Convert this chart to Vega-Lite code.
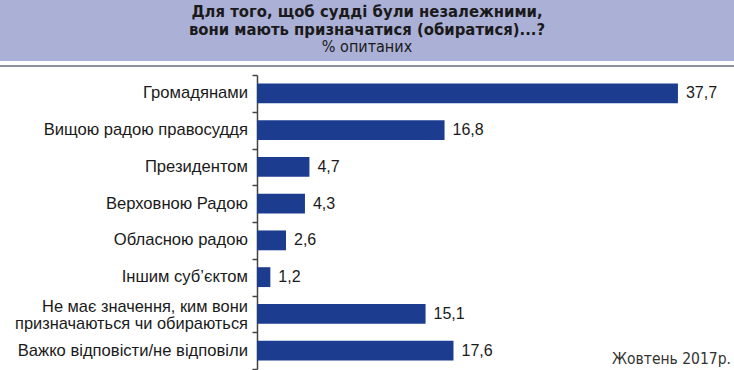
{
  "$schema": "https://vega.github.io/schema/vega-lite/v6.json",
  "padding": 0,
  "background": "white",
  "spacing": 7,
  "config": {
    "locale": {"number": {"decimal": ",", "thousands": " ", "grouping": [3], "currency": ["", ""]}},
    "view": {"stroke": null},
    "font": "Liberation Sans"
  },
  "vconcat": [
    {
      "width": 734,
      "height": 67,
      "view": {
        "stroke": null,
        "fill": {
          "gradient": "linear", "x1": 0, "y1": 0, "x2": 0, "y2": 1,
          "stops": [
            {"offset": 0, "color": "#abb0d7"},
            {"offset": 0.905, "color": "#abb0d7"},
            {"offset": 0.91, "color": "#ffffff"},
            {"offset": 0.965, "color": "#ffffff"},
            {"offset": 0.97, "color": "#8e919c"},
            {"offset": 1, "color": "#8e919c"}
          ]
        }
      },
      "data": {"values": [
        {"row": 1, "line": "Для того, щоб судді були незалежними,", "kind": "title"},
        {"row": 2, "line": "вони мають призначатися (обиратися)...?", "kind": "title"},
        {"row": 3, "line": "% опитаних", "kind": "sub"}
      ]},
      "layer": [
        {
          "transform": [{"filter": "datum.kind === 'title'"}],
          "mark": {"type": "text", "font": "DejaVu Sans Condensed", "fontWeight": "bold", "fontSize": 16.5, "color": "#1a1a1a", "baseline": "middle", "align": "center"},
          "encoding": {
            "y": {"field": "row", "type": "ordinal", "scale": {"domain": [1, 2, 3], "range": [12, 47], "padding": 0}, "axis": null},
            "text": {"field": "line"}
          }
        },
        {
          "transform": [{"filter": "datum.kind === 'sub'"}],
          "mark": {"type": "text", "font": "DejaVu Sans Condensed", "fontSize": 16, "color": "#1a1a1a", "baseline": "middle", "align": "center"},
          "encoding": {
            "y": {"field": "row", "type": "ordinal", "scale": {"domain": [1, 2, 3], "range": [12, 47], "padding": 0}, "axis": null},
            "text": {"field": "line"}
          }
        }
      ],
      "resolve": {"scale": {"y": "shared"}}
    },
    {
      "width": 734,
      "height": 294,
      "title": {"text": "Жовтень 2017р.", "orient": "bottom", "anchor": "end", "frame": "group", "offset": -18, "dx": -3, "font": "DejaVu Sans Condensed", "fontSize": 15.5, "fontWeight": "normal", "color": "#333333"},
      "data": {"values": [
        {"label": "Громадянами", "value": 37.7},
        {"label": "Вищою радою правосуддя", "value": 16.8},
        {"label": "Президентом", "value": 4.7},
        {"label": "Верховною Радою", "value": 4.3},
        {"label": "Обласною радою", "value": 2.6},
        {"label": "Іншим суб’єктом", "value": 1.2},
        {"label": "Не має значення, ким вони|призначаються чи обираються", "value": 15.1},
        {"label": "Важко відповісти/не відповіли", "value": 17.6}
      ]},
      "encoding": {
        "y": {
          "field": "label", "type": "nominal", "sort": null,
          "scale": {"paddingInner": 0, "paddingOuter": 0},
          "axis": {
            "title": null, "offset": -257, "tickBand": "extent", "tickSize": 5, "tickColor": "#444", "tickWidth": 1.5,
            "domainColor": "#444", "domainWidth": 1.5, "labels": false
          }
        },
        "x": {"field": "value", "type": "quantitative", "scale": {"domain": [-23.01, 42.72], "nice": false, "zero": false}, "axis": null}
      },
      "layer": [
        {"mark": {"type": "bar", "color": "#1c3d8f", "height": {"band": 0.54}}, "encoding": {"x2": {"datum": 0}}},
        {
          "mark": {"type": "text", "align": "left", "baseline": "middle", "dx": 8, "fontSize": 16, "color": "#1a1a1a"},
          "encoding": {"text": {"field": "value", "type": "quantitative", "format": ".1f"}}
        },
        {
          "transform": [{"filter": "indexof(datum.label, '|') < 0"}],
          "mark": {"type": "text", "align": "right", "baseline": "middle", "dx": -9, "fontSize": 16.6, "color": "#1a1a1a"},
          "encoding": {"x": {"datum": 0}, "text": {"field": "label"}}
        },
        {
          "transform": [{"filter": "indexof(datum.label, '|') >= 0"}],
          "mark": {"type": "text", "align": "right", "baseline": "middle", "dx": -9, "dy": -7, "lineBreak": "|", "lineHeight": 17, "fontSize": 16.4, "color": "#1a1a1a"},
          "encoding": {"x": {"datum": 0}, "text": {"field": "label"}}
        }
      ]
    }
  ]
}
